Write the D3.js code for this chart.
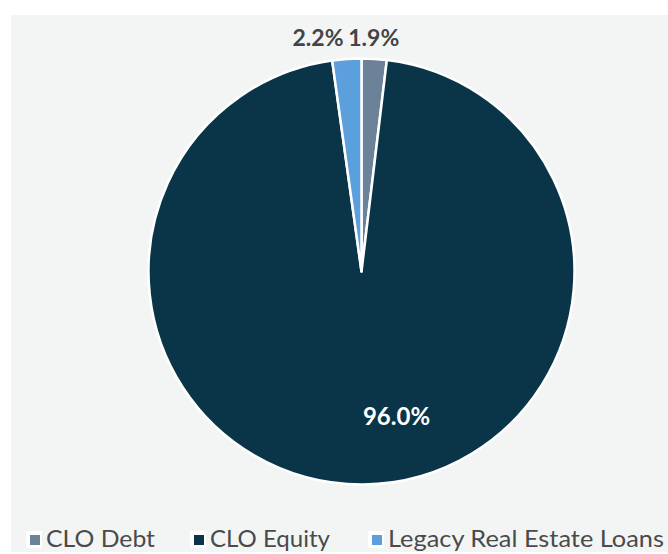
<!DOCTYPE html>
<html><head><meta charset="utf-8">
<script src="https://cdn.jsdelivr.net/npm/d3@7"></script>
<style>html,body{margin:0;padding:0;background:#fff;}svg{display:block;}</style>
</head><body>
<svg id="c" width="668" height="554"></svg>
<script>
const categories = ["CLO Debt", "CLO Equity", "Legacy Real Estate Loans"];
const values = [1.9, 96.0, 2.2];
const labels = ["1.9%", "96.0%", "2.2%"];
const colors = ["#6b8299", "#0a3549", "#5b9fdc"];

const svg = d3.select("#c");
svg.append("rect").attr("x", 11).attr("y", 15).attr("width", 657).attr("height", 537).attr("fill", "#f3f5f5");

const cx = 361.5, cy = 271.5, r = 213;
const pie = d3.pie().sort(null).value(d => d)(values);
const arc = d3.arc().innerRadius(0).outerRadius(r);
const g = svg.append("g").attr("transform", `translate(${cx},${cy})`);
g.selectAll("path").data(pie).join("path")
  .attr("d", arc).attr("fill", (d, i) => colors[i])
  .attr("stroke", "#fff").attr("stroke-width", 2.5).attr("stroke-linejoin", "round");

// labels
const font = "Lato, 'Open Sans', sans-serif";
const nudges = [-2, 0, -27];
pie.forEach((d, i) => {
  if (i === 1) {
    const [x, y] = d3.arc().innerRadius(0).outerRadius(r).centroid(d);
    g.append("text").attr("x", x + 34).attr("y", y + 47)
      .attr("text-anchor", "middle").attr("font-family", font).attr("font-weight", 700)
      .attr("font-size", 24).attr("fill", "#fff").text(labels[i]);
  } else {
    const mid = (d.startAngle + d.endAngle) / 2;
    const x = Math.sin(mid) * (r + 26) + nudges[i];
    g.append("text").attr("x", x).attr("y", -(r + 13))
      .attr("text-anchor", "middle").attr("font-family", font).attr("font-weight", 700)
      .attr("font-size", 23).attr("fill", "#444").text(labels[i]);
  }
});

// legend
const legX = [26, 190, 368];
const legW = [109, 120, 276];
const lg = svg.append("g");
categories.forEach((c, i) => {
  lg.append("rect").attr("x", legX[i]).attr("y", 531).attr("width", 16).attr("height", 17).attr("fill", "#fff");
  lg.append("rect").attr("x", legX[i] + 4).attr("y", 535).attr("width", 10).attr("height", 10).attr("fill", colors[i]);
  lg.append("text").attr("x", legX[i] + 20).attr("y", 547)
    .attr("font-family", font).attr("font-size", 23).attr("fill", "#4a4a4a")
    .attr("textLength", legW[i]).attr("lengthAdjust", "spacingAndGlyphs").text(c);
});
</script>
</body></html>
